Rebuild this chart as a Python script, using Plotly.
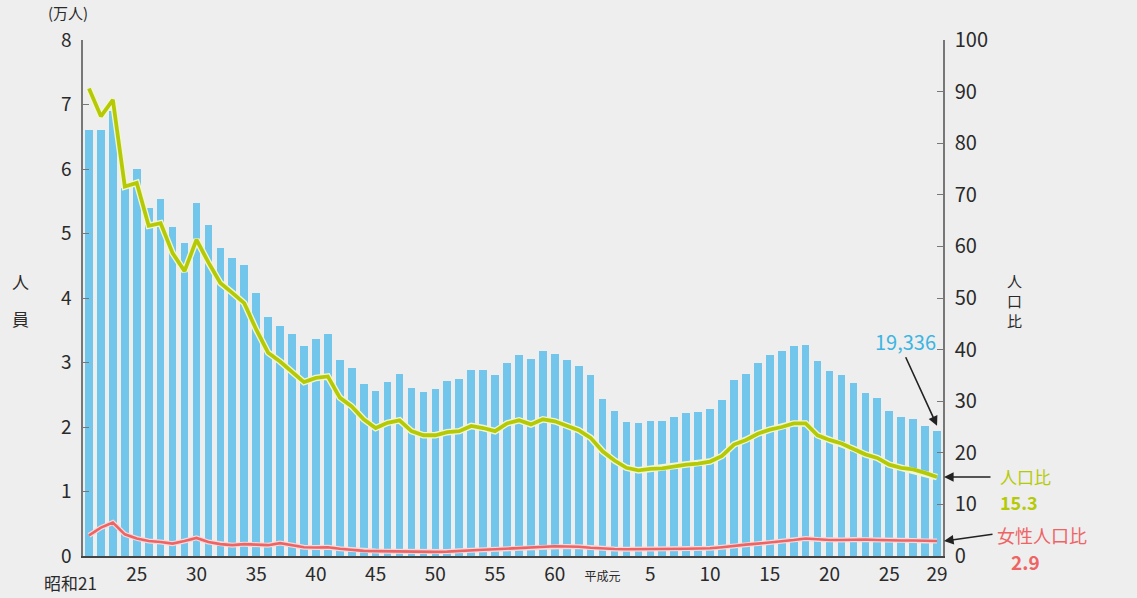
import plotly.graph_objects as go

# 昭和21(1946) .. 平成29(2017)
years_idx = list(range(72))
tick_pos = [4, 9, 14, 19, 24, 29, 34, 39, 43, 47, 52, 57, 62, 67, 71]
tick_text = ["25", "30", "35", "40", "45", "50", "55", "60",
             "<span style='font-size:12px'>平成元</span>", "5", "10", "15", "20", "25", "29"]

# 入所受刑者人員 (万人)
persons = [6.60, 6.60, 6.90, 5.70, 6.00, 5.39, 5.53, 5.10, 4.85, 5.47,
           5.13, 4.78, 4.62, 4.51, 4.08, 3.71, 3.57, 3.44, 3.26, 3.37,
           3.44, 3.04, 2.92, 2.67, 2.56, 2.70, 2.82, 2.60, 2.54, 2.59,
           2.71, 2.74, 2.88, 2.88, 2.81, 3.00, 3.12, 3.05, 3.18, 3.13,
           3.04, 2.95, 2.80, 2.44, 2.25, 2.08, 2.06, 2.09, 2.10, 2.16,
           2.21, 2.24, 2.28, 2.42, 2.73, 2.82, 3.00, 3.11, 3.18, 3.26,
           3.27, 3.02, 2.87, 2.81, 2.68, 2.52, 2.45, 2.25, 2.16, 2.12,
           2.02, 1.9336]

# 人口比
ratio = [90.6, 85.2, 88.4, 71.6, 72.3, 64.0, 64.5, 58.7, 55.2, 61.3,
         56.9, 52.9, 51.0, 49.0, 43.9, 39.4, 37.7, 35.8, 33.7, 34.5,
         34.8, 30.7, 29.0, 26.5, 24.8, 25.8, 26.3, 24.2, 23.4, 23.4,
         24.0, 24.2, 25.2, 24.8, 24.2, 25.7, 26.3, 25.5, 26.5, 26.1,
         25.2, 24.4, 22.9, 20.3, 18.5, 17.1, 16.6, 16.9, 17.0, 17.4,
         17.7, 17.9, 18.3, 19.4, 21.6, 22.5, 23.7, 24.5, 25.0, 25.7,
         25.7, 23.4, 22.5, 21.8, 20.8, 19.7, 19.0, 17.7, 17.1, 16.8,
         16.1, 15.3]

# 女性人口比
female_ratio = [4.0, 5.5, 6.5, 4.2, 3.4, 2.9, 2.7, 2.4, 2.9, 3.5,
                2.7, 2.3, 2.1, 2.3, 2.2, 2.1, 2.5, 2.1, 1.7, 1.65,
                1.7, 1.4, 1.2, 1.0, 0.95, 0.9, 0.85, 0.8, 0.75, 0.8,
                0.85, 1.0, 1.1, 1.2, 1.3, 1.4, 1.5, 1.6, 1.75, 1.9,
                1.85, 1.8, 1.6, 1.45, 1.35, 1.3, 1.3, 1.3, 1.3, 1.35,
                1.4, 1.45, 1.5, 1.7, 2.0, 2.2, 2.4, 2.6, 2.8, 3.1,
                3.4, 3.2, 3.1, 3.1, 3.2, 3.2, 3.1, 3.0, 3.0, 3.0,
                2.9, 2.9]

BG = "#eeeeee"
BAR = "#72c6eb"
GREEN = "#b5ca05"
RED = "#ee6464"
CYAN = "#3db5e2"
TXT = "#2a2a2a"
FONT = "Noto Sans CJK JP, Noto Sans, sans-serif"

fig = go.Figure()
fig.add_trace(go.Bar(x=years_idx, y=persons, marker=dict(color=BAR, line=dict(width=0)),
                     width=0.64, yaxis="y", hoverinfo="skip"))
# line halos
fig.add_trace(go.Scatter(x=years_idx, y=ratio, mode="lines", yaxis="y2",
                         line=dict(color="#f3f6d2", width=6.5), hoverinfo="skip"))
fig.add_trace(go.Scatter(x=years_idx, y=ratio, mode="lines", yaxis="y2",
                         line=dict(color=GREEN, width=3.8)))
fig.add_trace(go.Scatter(x=years_idx, y=female_ratio, mode="lines", yaxis="y2",
                         line=dict(color="#f8d8d8", width=5), hoverinfo="skip"))
fig.add_trace(go.Scatter(x=years_idx, y=female_ratio, mode="lines", yaxis="y2",
                         line=dict(color=RED, width=2.6)))

ann = []
def txt(x, y, s, size=17, color=TXT, xanchor="center", yanchor="middle", align="center"):
    ann.append(dict(x=x, y=y, xref="paper", yref="paper", text=s, showarrow=False,
                    font=dict(size=size, color=color, family=FONT),
                    xanchor=xanchor, yanchor=yanchor, align=align))

def px(xp):
    return (xp - 83) / 860.0

def py(yp):
    return (556 - yp) / 516.0

txt(px(68), py(13), "(万人)", size=15)
txt(px(20), py(281), "人", size=17)
txt(px(20), py(318), "員", size=17)
txt(px(1014), py(280), "人", size=15)
txt(px(1014), py(300), "口", size=15)
txt(px(1014), py(320), "比", size=15)
txt(px(99), py(582), "昭和21", size=17, xanchor="right")
txt(px(938), py(342), "19,336", size=20, color=CYAN, xanchor="right")
txt(px(998), py(476), "人口比", size=17, color=GREEN, xanchor="left")
txt(px(998), py(502), "<b>15.3</b>", size=18, color=GREEN, xanchor="left")
txt(px(995), py(535), "女性人口比", size=18, color=RED, xanchor="left")
txt(px(1025), py(561), "<b>2.9</b>", size=19, color=RED, xanchor="center")

# arrows
ann.append(dict(x=71, y=2.02, xref="x", yref="y", ax=-32, ay=-70, text="",
                showarrow=True, arrowhead=2, arrowsize=1.2, arrowwidth=1.6, arrowcolor="#222"))
ann.append(dict(x=px(944), y=15.3, xref="paper", yref="y2", ax=48, ay=0, text="",
                showarrow=True, arrowhead=2, arrowsize=1.2, arrowwidth=1.6, arrowcolor="#222"))
ann.append(dict(x=px(944), y=2.9, xref="paper", yref="y2", ax=50, ay=-7, text="",
                showarrow=True, arrowhead=2, arrowsize=1.2, arrowwidth=1.6, arrowcolor="#222"))

fig.update_layout(
    width=1137, height=598,
    paper_bgcolor=BG, plot_bgcolor=BG,
    margin=dict(l=83, r=194, t=40, b=42, autoexpand=False),
    showlegend=False, bargap=0,
    font=dict(family=FONT, color=TXT),
    xaxis=dict(range=[-0.5, 71.5], tickmode="array", tickvals=tick_pos, ticktext=tick_text,
               showgrid=False, zeroline=False, showline=True, linecolor="#444", linewidth=1.5,
               ticks="", tickfont=dict(size=19, color=TXT), fixedrange=True),
    yaxis=dict(range=[0, 8], tickvals=list(range(9)), showgrid=False, zeroline=False,
               showline=True, linecolor="#777", linewidth=1.5, ticks="inside", ticklen=6,
               tickcolor="#777", tickfont=dict(size=19, color=TXT), ticklabelstandoff=6),
    yaxis2=dict(range=[0, 100], tickvals=list(range(0, 101, 10)), overlaying="y", side="right",
                showgrid=False, zeroline=False, showline=True, linecolor="#777", linewidth=1.5,
                ticks="inside", ticklen=6, tickcolor="#777", tickfont=dict(size=20, color=TXT),
                ticklabelstandoff=6),
    annotations=ann,
)

fig.write_html("out.html", config={"displayModeBar": False},
               post_script="document.body.style.margin='0';document.body.style.background='#eeeeee';")
